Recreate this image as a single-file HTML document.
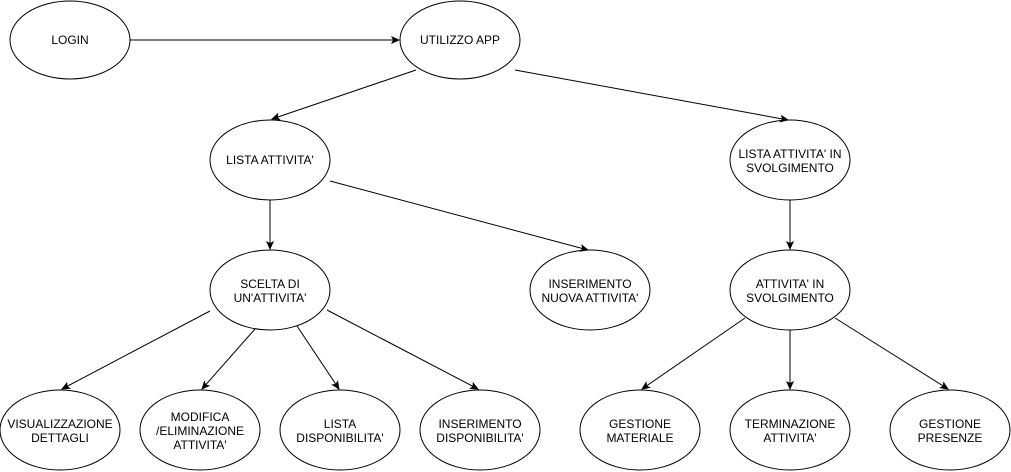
<!DOCTYPE html>
<html><head><meta charset="utf-8"><style>
html,body{margin:0;padding:0;background:#fff;}
svg{display:block;}
text{font-family:"Liberation Sans",Arial,sans-serif;font-size:12px;fill:#000;}
</style></head><body>
<svg width="1011" height="472" viewBox="0 0 1011 472" xmlns="http://www.w3.org/2000/svg">
<defs><marker id="a" markerWidth="10" markerHeight="10" refX="8" refY="4" orient="auto" markerUnits="userSpaceOnUse"><path d="M0,0 L9,4 L0,8 L2,4 z" fill="#000"/></marker></defs>
<g fill="#fff" stroke="#000" stroke-width="1">
<ellipse cx="70" cy="40" rx="60" ry="39"/>
<ellipse cx="460" cy="40" rx="60" ry="39"/>
<ellipse cx="270" cy="160" rx="60" ry="40"/>
<ellipse cx="790" cy="160" rx="60" ry="40"/>
<ellipse cx="270" cy="290" rx="60" ry="40"/>
<ellipse cx="590" cy="290" rx="60" ry="40"/>
<ellipse cx="790" cy="290" rx="60" ry="40"/>
<ellipse cx="60" cy="430" rx="60" ry="40"/>
<ellipse cx="200" cy="430" rx="60" ry="40"/>
<ellipse cx="340" cy="430" rx="60" ry="40"/>
<ellipse cx="480" cy="430" rx="60" ry="40"/>
<ellipse cx="640" cy="430" rx="60" ry="40"/>
<ellipse cx="790" cy="430" rx="60" ry="40"/>
<ellipse cx="950" cy="430" rx="60" ry="40"/>
</g>
<g stroke="#000" stroke-width="1" marker-end="url(#a)">
<line x1="130" y1="40" x2="399" y2="40"/>
<line x1="416" y1="70" x2="272" y2="119"/>
<line x1="515" y1="70" x2="788" y2="120"/>
<line x1="270" y1="200" x2="270" y2="249"/>
<line x1="330" y1="181" x2="588" y2="250"/>
<line x1="790" y1="200" x2="790" y2="249"/>
<line x1="210" y1="311" x2="62" y2="389"/>
<line x1="255" y1="329" x2="202" y2="389"/>
<line x1="297" y1="326" x2="339" y2="389"/>
<line x1="327" y1="310" x2="478" y2="389"/>
<line x1="745" y1="318" x2="642" y2="389"/>
<line x1="790" y1="330" x2="790" y2="389"/>
<line x1="835" y1="318" x2="948" y2="389"/>
</g>
<g text-anchor="middle">
<text x="70" y="44">LOGIN</text>
<text x="460" y="44">UTILIZZO APP</text>
<text x="270" y="164">LISTA ATTIVITA'</text>
<text x="790" y="158">LISTA ATTIVITA' IN</text><text x="790" y="172">SVOLGIMENTO</text>
<text x="270" y="288">SCELTA DI</text><text x="270" y="302">UN'ATTIVITA'</text>
<text x="590" y="288">INSERIMENTO</text><text x="590" y="302">NUOVA ATTIVITA'</text>
<text x="790" y="288">ATTIVITA' IN</text><text x="790" y="302">SVOLGIMENTO</text>
<text x="60" y="428">VISUALIZZAZIONE</text><text x="60" y="442">DETTAGLI</text>
<text x="200" y="421">MODIFICA</text><text x="200" y="435">/ELIMINAZIONE</text><text x="200" y="449">ATTIVITA'</text>
<text x="340" y="428">LISTA</text><text x="340" y="442">DISPONIBILITA'</text>
<text x="480" y="428">INSERIMENTO</text><text x="480" y="442">DISPONIBILITA'</text>
<text x="640" y="428">GESTIONE</text><text x="640" y="442">MATERIALE</text>
<text x="790" y="428">TERMINAZIONE</text><text x="790" y="442">ATTIVITA'</text>
<text x="950" y="428">GESTIONE</text><text x="950" y="442">PRESENZE</text>
</g>
</svg>
</body></html>
